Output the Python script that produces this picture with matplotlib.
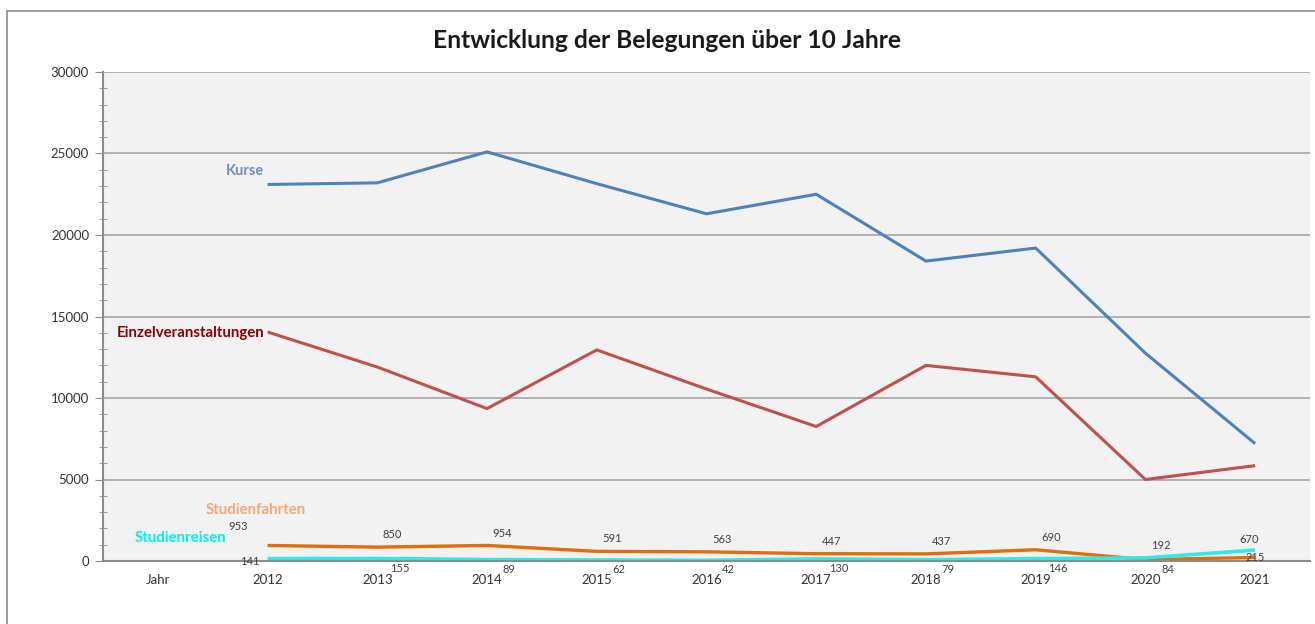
import matplotlib.pyplot as plt
from matplotlib.lines import Line2D
from matplotlib.ticker import MultipleLocator

# category axis: first slot is the "Jahr" header
categories = ["Jahr", "2012", "2013", "2014", "2015", "2016", "2017", "2018", "2019", "2020", "2021"]

kurse = [23100, 23200, 25100, 23150, 21300, 22500, 18400, 19200, 12750, 7200]
einzel = [14050, 11900, 9350, 12950, 10550, 8250, 12000, 11300, 5000, 5850]
fahrten = [953, 850, 954, 591, 563, 447, 437, 690, 84, 215]
reisen = [141, 155, 89, 62, 42, 130, 79, 146, 192, 670]

plt.rcParams['font.family'] = ['Lato', 'DejaVu Sans']

fig = plt.figure(figsize=(13.15, 6.24), dpi=100)
ax = fig.add_axes([103 / 1315, 63 / 624, 1207 / 1315, 489 / 624])

# outer chart frame (left and top edges visible)
fig.add_artist(Line2D([7 / 1315, 7 / 1315], [0, 1 - 11 / 624], transform=fig.transFigure, color="#8c8c8c", lw=1.2))
fig.add_artist(Line2D([7 / 1315, 1], [1 - 11 / 624, 1 - 11 / 624], transform=fig.transFigure, color="#8c8c8c", lw=1.2))

ax.set_facecolor("#f2f2f2")
xs = list(range(1, len(categories)))

ax.plot(xs, kurse, color="#4f81bd", lw=2.2, solid_capstyle="butt")
ax.plot(xs, einzel, color="#c0504d", lw=2.2, solid_capstyle="butt")
ax.plot(xs, fahrten, color="#e46c0a", lw=2.4, solid_capstyle="butt")
ax.plot(xs, reisen, color="#33e8e8", lw=2.6, solid_capstyle="butt")

# value labels for the two small series: larger value above, smaller below
lab = dict(fontsize=8, color="#404040", textcoords="offset points")
for i, x in enumerate(xs):
    hi, lo = max(fahrten[i], reisen[i]), min(fahrten[i], reisen[i])
    if i == 0:
        ax.annotate(str(fahrten[i]), (x, fahrten[i]), xytext=(-28, 10), ha="left", va="bottom", **lab)
        ax.annotate(str(reisen[i]), (x, reisen[i]), xytext=(-6, -2), ha="right", va="center", **lab)
        continue
    if i == len(xs) - 1:
        ax.annotate(str(hi), (x, hi), xytext=(-4, 4), ha="center", va="bottom", **lab)
        ax.annotate(str(lo), (x, lo), xytext=(0, 0), ha="center", va="center", **lab)
    else:
        ax.annotate(str(hi), (x, hi), xytext=(11, 5), ha="center", va="bottom", **lab)
        ax.annotate(str(lo), (x, lo), xytext=(16, -3), ha="center", va="top", **lab)

# series names
ax.text(0.97, 23900, "Kurse", color="#6f8fc0", fontsize=10.5, fontweight="bold", ha="right", va="center")
ax.text(0.97, 14000, "Einzelveranstaltungen", color="#8b0000", fontsize=10.8, fontweight="bold", ha="right", va="center")
ax.text(0.89, 3100, "Studienfahrten", color="#f5a775", fontsize=10.8, fontweight="bold", ha="center", va="center")
ax.text(-0.21, 1400, "Studienreisen", color="#00f0f0", fontsize=10.8, fontweight="bold", ha="left", va="center")

ax.set_xlim(-0.5, len(categories) - 0.5)
ax.set_ylim(0, 30000)
ax.set_xticks(range(len(categories)))
ax.set_xticklabels(categories)
ax.yaxis.set_major_locator(MultipleLocator(5000))
ax.yaxis.set_minor_locator(MultipleLocator(1000))
ax.tick_params(axis="x", length=0, pad=9, labelsize=9.5, labelcolor="#333333")
ax.tick_params(axis="y", which="major", length=6, direction="out", color="#8c8c8c", labelsize=9.5, labelcolor="#333333", pad=4)
ax.tick_params(axis="y", which="minor", length=6, direction="inout", color="#8c8c8c")

ax.grid(axis="y", which="major", color="#a6a6a6", lw=1.2)
ax.set_axisbelow(True)
for side in ("top", "right"):
    ax.spines[side].set_visible(False)
ax.spines["left"].set_color("#8c8c8c")
ax.spines["left"].set_linewidth(1.5)
ax.spines["bottom"].set_color("#8c8c8c")
ax.spines["bottom"].set_linewidth(1.5)

fig.text(667 / 1315, 1 - 40 / 624, "Entwicklung der Belegungen über 10 Jahre", ha="center", va="center",
         fontsize=17.7, fontweight="bold", color="#1a1a1a")

fig.savefig("out.png", dpi=100)
